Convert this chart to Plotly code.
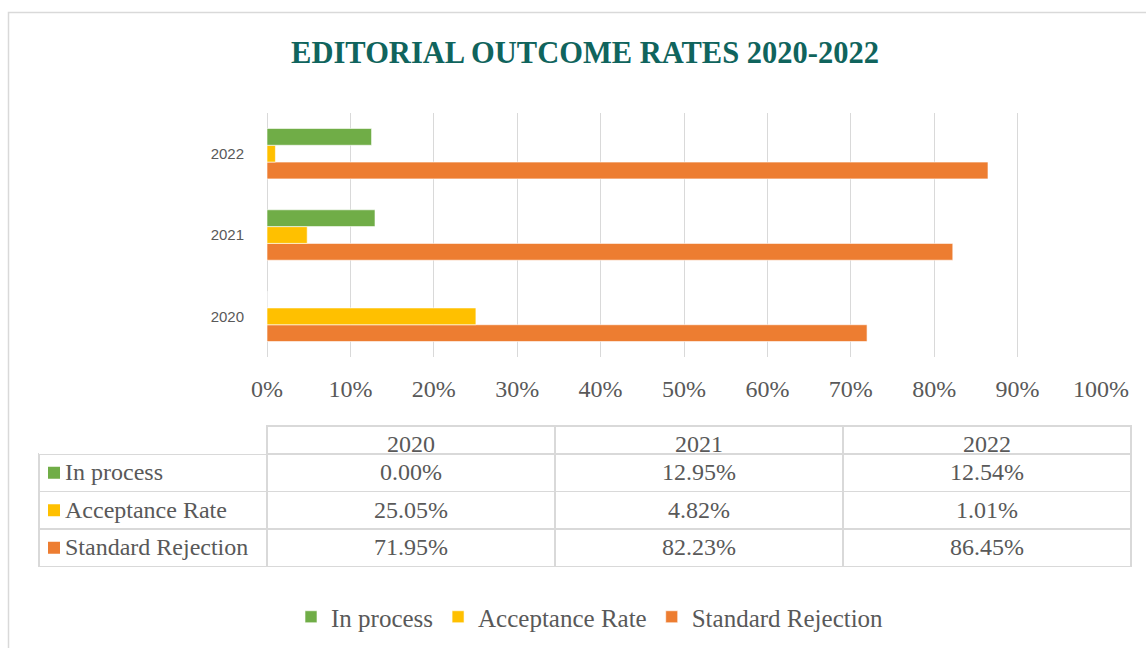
import plotly.graph_objects as go

W, H = 1146, 648

years = ["2020", "2021", "2022"]
series_names = ["In process", "Acceptance Rate", "Standard Rejection"]
in_process = [0.00, 12.95, 12.54]
acceptance = [25.05, 4.82, 1.01]
rejection = [71.95, 82.23, 86.45]
colors = ["#70AD47", "#FFC000", "#ED7D31"]
x_ticks = [0, 10, 20, 30, 40, 50, 60, 70, 80, 90, 100]

series_values = [in_process, acceptance, rejection]

SERIF = "Liberation Serif, DejaVu Serif, serif"
GRAY = "#595959"
GRID = "#D9D9D9"

fig = go.Figure()
# plotly draws the first trace at the bottom of each group, so add in reverse
for name, vals, col in reversed(list(zip(series_names, series_values, colors))):
    fig.add_trace(go.Bar(
        y=years, x=vals, name=name, orientation="h",
        marker=dict(color=col, line=dict(color="rgba(255,255,255,0.6)", width=1)),
        xaxis="x", yaxis="y",
    ))

# data table layout (pixels)
TBL_TOP, HDR_H, ROW_H = 426, 28, 37.5
TBL_L, TBL_R = 39, 1131
label_cells = ["\u00a0\u00a0\u00a0" + n for n in series_names]
year_cols = [[f"{series_values[s][i]:.2f}%" for s in range(3)] for i in range(3)]
tbl_bottom = TBL_TOP + HDR_H + ROW_H * len(series_names)
fig.add_trace(go.Table(
    domain=dict(x=[TBL_L / W, TBL_R / W], y=[1 - (tbl_bottom + 4) / H, 1 - TBL_TOP / H]),
    columnwidth=[228, 288, 288, 288],
    header=dict(
        values=[""] + years,
        height=HDR_H,
        fill_color="white",
        line=dict(color=["rgba(0,0,0,0)", GRID, GRID, GRID], width=1.5),
        font=dict(family=SERIF, size=24, color=GRAY),
        align=["left", "center", "center", "center"],
    ),
    cells=dict(
        values=[label_cells] + year_cols,
        height=ROW_H,
        fill_color="white",
        line=dict(color=GRID, width=1.5),
        font=dict(family=SERIF, size=24, color=GRAY),
        align=["left", "center", "center", "center"],
    ),
))

# legend keys inside the table's label column
shapes = []
for i, col in enumerate(colors):
    cy = TBL_TOP + HDR_H + ROW_H * (i + 0.5)
    shapes.append(dict(
        type="rect", xref="paper", yref="paper",
        x0=48 / W, x1=60 / W, y0=1 - (cy + 6) / H, y1=1 - (cy - 6) / H,
        line=dict(width=0), fillcolor=col, layer="above",
    ))
shapes.append(dict(
    type="rect", xref="paper", yref="paper",
    x0=8.5 / W, x1=1.05, y0=-0.05, y1=1 - 12.5 / H,
    line=dict(color=GRID, width=1.5), fillcolor="rgba(0,0,0,0)", layer="below",
))

fig.update_layout(
    width=W, height=H, autosize=False,
    margin=dict(l=0, r=0, t=0, b=0, autoexpand=False),
    paper_bgcolor="white", plot_bgcolor="white",
    barmode="group", bargap=0.38, bargroupgap=0,
    title=dict(
        text="<b>EDITORIAL OUTCOME RATES 2020-2022</b>",
        x=585 / W, xanchor="center", y=1 - 52 / H, yanchor="middle",
        font=dict(family=SERIF, size=30.5, color="#10645D"),
    ),
    xaxis=dict(
        domain=[267 / W, 1101 / W], range=[0, 100], automargin=False,
        tickvals=x_ticks, ticktext=[f"{v}%" for v in x_ticks],
        showgrid=True, gridcolor=GRID, gridwidth=1.3,
        zeroline=True, zerolinecolor=GRID, zerolinewidth=1.3,
        showline=False, ticks="",
        tickfont=dict(family=SERIF, size=24, color=GRAY),
        ticklabelstandoff=15,
        fixedrange=True,
    ),
    yaxis=dict(
        domain=[1 - 357 / H, 1 - 113 / H], automargin=False,
        type="category",
        showgrid=False, showline=False, ticks="",
        tickfont=dict(family="Liberation Sans, Arial, sans-serif", size=15, color=GRAY),
        ticklabelstandoff=22,
        fixedrange=True,
    ),
    legend=dict(
        orientation="h", traceorder="reversed",
        x=590 / W, xanchor="center", y=1 - 617 / H, yanchor="middle",
        font=dict(family=SERIF, size=25, color=GRAY),
        itemwidth=30,
    ),
    shapes=shapes,
)

fig.write_html("out.html", config={"displayModeBar": False},
               post_script="document.body.style.margin='0px';")
